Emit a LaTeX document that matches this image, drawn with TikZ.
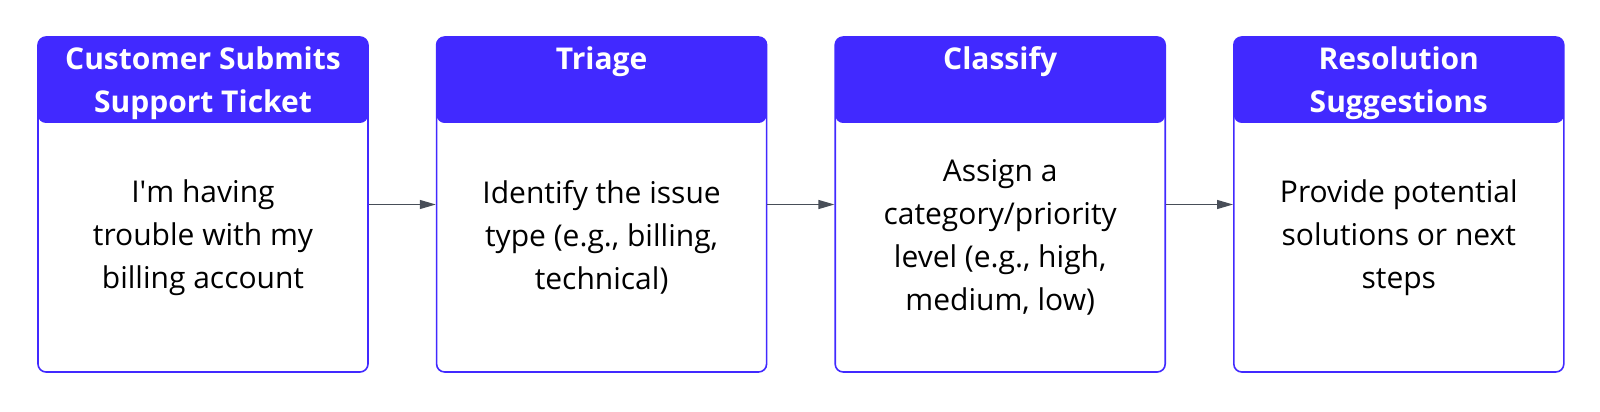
\documentclass[tikz,border=0pt]{standalone}
\usepackage{fontspec}
\setmainfont{Open Sans}
\usetikzlibrary{positioning,arrows.meta}
\definecolor{headblue}{RGB}{65,41,255}
\definecolor{arrowgray}{RGB}{72,78,88}
\begin{document}
\begin{tikzpicture}[
    card/.style={rectangle,draw=headblue,line width=0.8pt,rounded corners=4pt,
        minimum width=165pt,minimum height=167.5pt,inner sep=0pt,
        path picture={\fill[headblue] (path picture bounding box.north west)
            rectangle ([yshift=-\headh]path picture bounding box.north east);}},
    title/.style={anchor=north,align=center,text=white,inner sep=0pt,
        font=\fontsize{15pt}{21.5pt}\selectfont\bfseries},
    body/.style={align=center,inner sep=0pt,
        font=\fontsize{15pt}{21.5pt}\selectfont},
    flow/.style={draw=arrowgray,line width=0.6pt,-{Triangle[length=8pt,width=4.5pt]}},
    node distance=33.5pt,
    ]
\def\headh{43pt} % Height of the coloured header strip

    % Fix the margins of the picture
    \useasboundingbox (-101.5pt,-103.75pt) rectangle (698.5pt,102.25pt);

    %% The four cards
    \node[card] (submit) at (0,0) {};
    \node[card,right=of submit] (triage) {};
    \node[card,right=of triage] (classify) {};
    \node[card,right=of classify] (resolve) {};

    % Headers
    \node[title] (submit-t) at ([yshift=-5pt]submit.north) {Customer Submits\\Support Ticket};
    \node[title] (triage-t) at ([yshift=-5pt]triage.north) {Triage};
    \node[title] (classify-t) at ([yshift=-5pt]classify.north) {Classify};
    \node[title] (resolve-t) at ([yshift=-5pt]resolve.north) {Resolution\\Suggestions};

    % Texts below the headers
    \node[body] (submit-b) at ([yshift=-16.5pt]submit.center) {I\textquotesingle m having\\trouble with my\\billing account};
    \node[body] (triage-b) at ([yshift=-16.5pt]triage.center) {Identify the issue\\type (e.g., billing,\\technical)};
    \node[body] (classify-b) at ([yshift=-16.5pt]classify.center) {Assign a\\category/priority\\level (e.g., high,\\medium, low)};
    \node[body] (resolve-b) at ([yshift=-16.5pt]resolve.center) {Provide potential\\solutions or next\\steps};

    % Connectors
    \draw[flow] (submit.east) -- (triage.west);
    \draw[flow] (triage.east) -- (classify.west);
    \draw[flow] (classify.east) -- (resolve.west);
\end{tikzpicture}
\end{document}
